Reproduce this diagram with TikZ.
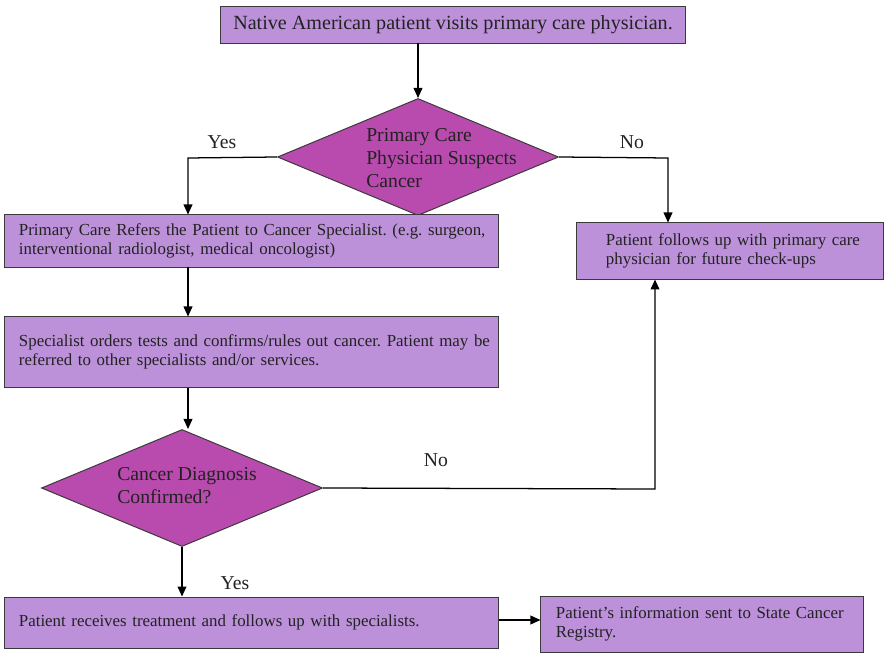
\documentclass[tikz,border=0pt]{standalone}
\usepackage{fontspec}
\setmainfont{Liberation Serif}
\usetikzlibrary{arrows.meta, shapes.geometric}

\definecolor{stepfill}{RGB}{188,145,218}
\definecolor{askfill}{RGB}{185,74,174}
\definecolor{edgegray}{RGB}{58,58,58}
\definecolor{inkgray}{RGB}{34,34,34}

\begin{document}
\frenchspacing
\begin{tikzpicture}[x=0.025cm, y=-0.025cm,
  stepbox/.style={rectangle, draw=edgegray, line width=0.7pt, fill=stepfill,
    text=inkgray, align=left, inner ysep=0pt,
    font=\fontsize{12}{14}\selectfont},
  askbox/.style={diamond, draw=edgegray, line width=0.7pt, fill=askfill,
    inner sep=0pt, minimum width=7.025cm, minimum height=2.925cm},
  asktext/.style={text=inkgray, align=left, inner sep=0pt,
    font=\fontsize{14}{16.3}\selectfont},
  answer/.style={text=inkgray, inner sep=0pt, font=\fontsize{14}{16}\selectfont},
  flow/.style={line width=0.9pt, -{Triangle[length=0.25cm, width=0.22cm]}}]
  \useasboundingbox (0,0) rectangle (888,655);

  % first visit
  \node[stepbox, minimum width=11.6cm, minimum height=0.9cm, align=center,
    font=\fontsize{14.3}{16}\selectfont] (visit) at (453,25)
    {Native American patient visits primary care physician.};

  % first question
  \node[askbox] (suspect) at (418,157) {};
  \node[asktext, anchor=west] (suspectText) at (366,158)
    {Primary Care\\Physician Suspects\\Cancer};

  % yes branch boxes
  \node[stepbox, minimum width=12.325cm, minimum height=1.3cm,
    text width=11.625cm, inner xsep=0.35cm] (refer) at (251.5,241)
    {\mbox{Primary Care Refers the Patient to Cancer Specialist. (e.g. surgeon,}\\
     interventional radiologist, medical oncologist)};
  \node[stepbox, minimum width=12.325cm, minimum height=1.75cm,
    text width=11.625cm, inner xsep=0.35cm] (tests) at (251.5,352)
    {\mbox{Specialist orders tests and confirms/rules out cancer. Patient may be}\\
     referred to other specialists and/or services.};

  % no branch box
  \node[stepbox, minimum width=7.65cm, minimum height=1.4cm,
    text width=6.2cm, inner xsep=0.725cm] (followup) at (730,251)
    {\mbox{Patient follows up with primary care}\\physician for future check-ups};

  % second question
  \node[askbox] (confirm) at (182,488) {};
  \node[asktext, anchor=west] (confirmText) at (117,486)
    {Cancer Diagnosis\\Confirmed?};

  % bottom row
  \node[stepbox, minimum width=12.325cm, minimum height=1.275cm,
    text width=11.625cm, inner xsep=0.35cm] (treat) at (251.5,622.5)
    {Patient receives treatment and follows up with specialists.};
  \node[stepbox, minimum width=8.05cm, minimum height=1.4cm,
    text width=7.3cm, inner xsep=0.375cm] (registry) at (702,624)
    {\mbox{Patient's information sent to State Cancer}\\Registry.};

  % turning points of the elbow lines
  \coordinate (yesTurn) at (188,158);
  \coordinate (noTurn) at (668,158);
  \coordinate (noBack) at (655,489);

  % connectors
  \draw[flow] (suspect.north |- visit.south) -- (suspect.north);
  \draw[flow] (suspect.west) -- (yesTurn) -- (yesTurn |- refer.north);
  \draw[flow] (suspect.east) -- (noTurn) -- (noTurn |- followup.north);
  \draw[flow] (yesTurn |- refer.south) -- (yesTurn |- tests.north);
  \draw[flow] (yesTurn |- tests.south) -- (yesTurn |- confirm.north);
  \draw[flow] (confirm.east) -- (noBack) -- (noBack |- followup.south);
  \draw[flow] (confirm.south) -- (confirm.south |- treat.north);
  \draw[flow] (treat.east |- 0,620) -- (registry.west |- 0,620);

  % answers
  \node[answer] (yesA) at (222,142) {Yes};
  \node[answer] (noA) at (632,142) {No};
  \node[answer] (noB) at (436,460) {No};
  \node[answer] (yesB) at (235,583) {Yes};
\end{tikzpicture}
\end{document}
